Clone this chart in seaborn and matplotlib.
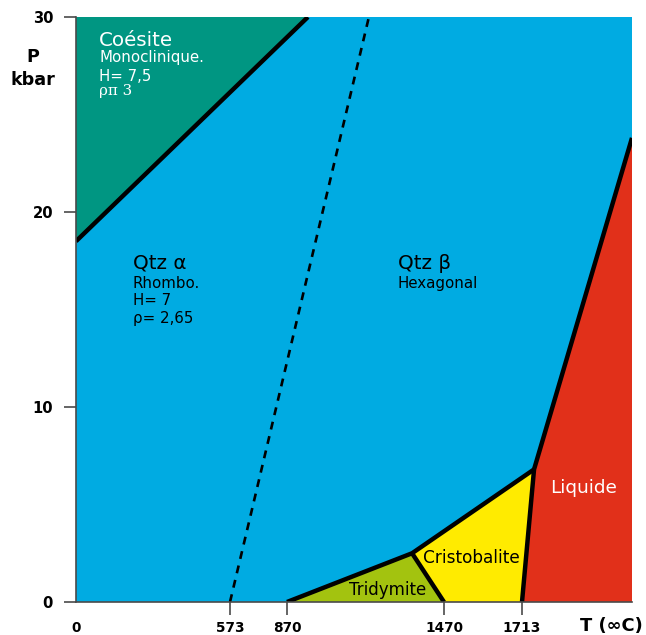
import numpy as np
import matplotlib
matplotlib.use("Agg")
import matplotlib.pyplot as plt
import seaborn as sns

# Phase boundaries of SiO2 (T in °C, P in kbar)
T_COESITE = [0, 950]
P_COESITE = [18.5, 30]
T_ALPHA_BETA = [573, 1183]
P_ALPHA_BETA = [0, 30]
T_HIGH_T = [870, 1348, 1750]
P_HIGH_T = [0, 2.5, 6.8]
T_TRI_CRI = [1348, 1470]
P_TRI_CRI = [2.5, 0]
T_MELT = [1713, 1750, 2051]
P_MELT = [0, 6.8, 23.8]

T_TICKS = [0, 573, 870, 1470, 1713]
P_TICKS = [0, 10, 20, 30]
T_MAX = 2051
P_MAX = 30

# Schematic (non-linear) temperature axis: knots and their relative positions
AXIS_T = [0, 573, 870, 1470, 1713, 2051]
AXIS_POS = [0, 154, 211, 368, 446, 556]


def forward(t):
    return np.interp(t, AXIS_T, AXIS_POS)


def inverse(x):
    return np.interp(x, AXIS_POS, AXIS_T)


BLUE = "#00ABE2"
GREEN = "#009682"
OLIVE = "#A3C30F"
YELLOW = "#FFEB00"
RED = "#E1301A"

sns.set_theme(style="ticks")
plt.rcParams["font.family"] = ["DejaVu Sans"]
plt.rcParams["text.color"] = "black"
plt.rcParams["xtick.labelcolor"] = "black"
plt.rcParams["ytick.labelcolor"] = "black"

fig = plt.figure(figsize=(6.46, 6.35), dpi=100)
ax = fig.add_axes([76 / 646, 33 / 635, 556 / 646, 585 / 635])
ax.set_xscale("function", functions=(forward, inverse))
ax.set_xlim(0, T_MAX)
ax.set_ylim(0, P_MAX)
ax.set_facecolor(BLUE)

# Phase fields
ax.fill([T_COESITE[0], T_COESITE[1], 0], [P_COESITE[0], P_COESITE[1], P_MAX],
        color=GREEN, lw=0, zorder=1)
ax.fill([T_HIGH_T[0], T_HIGH_T[1], T_TRI_CRI[1]], [P_HIGH_T[0], P_HIGH_T[1], P_TRI_CRI[1]],
        color=OLIVE, lw=0, zorder=1)
ax.fill([T_HIGH_T[1], T_HIGH_T[2], T_MELT[0], T_TRI_CRI[1]],
        [P_HIGH_T[1], P_HIGH_T[2], P_MELT[0], P_TRI_CRI[1]],
        color=YELLOW, lw=0, zorder=1)
ax.fill(T_MELT + [T_MAX], P_MELT + [0], color=RED, lw=0, zorder=1)

# Boundary lines
for t, p in [(T_COESITE, P_COESITE), (T_HIGH_T, P_HIGH_T),
             (T_TRI_CRI, P_TRI_CRI), (T_MELT, P_MELT)]:
    sns.lineplot(x=t, y=p, sort=False, color="black", lw=3.2, ax=ax,
                 solid_capstyle="butt", zorder=3)
sns.lineplot(x=T_ALPHA_BETA, y=P_ALPHA_BETA, sort=False, color="black", lw=1.9,
             ax=ax, zorder=3, linestyle=(0, (3.0, 2.6)))

# Axes styling
for side in ("top", "right"):
    ax.spines[side].set_visible(False)
for side in ("left", "bottom"):
    ax.spines[side].set_color("#4a4a4a")
    ax.spines[side].set_linewidth(1.2)
    ax.spines[side].set_zorder(4)

ax.set_xticks(T_TICKS)
ax.set_xticklabels([str(t) for t in T_TICKS], fontsize=9.8, fontweight="bold")
ax.set_yticks(P_TICKS)
ax.set_yticklabels([str(p) for p in P_TICKS], fontsize=10.6, fontweight="bold")
ax.tick_params(axis="x", length=9, width=1.2, color="#4a4a4a", labelcolor="black", pad=4.5)
ax.tick_params(axis="y", length=9, width=1.2, color="#4a4a4a", labelcolor="black", pad=7.5)
ax.xaxis.get_major_ticks()[0].tick1line.set_visible(False)
ax.set_xlabel("")
ax.set_ylabel("")

# Axis titles
fig.text(33 / 646, 1 - 62 / 635, "P", ha="center", va="baseline",
         fontsize=12.6, fontweight="bold", color="black")
fig.text(33 / 646, 1 - 85 / 635, "kbar", ha="center", va="baseline",
         fontsize=12.6, fontweight="bold", color="black")
fig.text(643 / 646, 1 - 631 / 635, "T (∞C)", ha="right", va="baseline",
         fontsize=12.9, fontweight="bold", color="black")


# Phase labels
def label(t, p, s, **kw):
    ax.text(t, p, s, zorder=5, va="baseline", **kw)


TITLE = 14.3
BODY = 10.8
label(86, 28.51, "Coésite", color="white", fontsize=TITLE)
label(86, 27.68, "Monoclinique.", color="white", fontsize=BODY)
label(86, 26.72, "H= 7,5", color="white", fontsize=BODY)
label(86, 25.99, "ρπ 3", color="white", fontsize=BODY, family=["DejaVu Serif"])

label(211, 17.08, "Qtz α", color="black", fontsize=TITLE)
label(211, 16.12, "Rhombo.", color="black", fontsize=BODY)
label(211, 15.23, "H= 7", color="black", fontsize=BODY)
label(211, 14.32, "ρ= 2,65", color="black", fontsize=BODY)

label(1294, 17.08, "Qtz β", color="black", fontsize=TITLE)
label(1294, 16.12, "Hexagonal", color="black", fontsize=BODY)

label(1902, 5.57, "Liquide", color="white", fontsize=13.3, ha="center")
label(1556, 2.02, "Cristobalite", color="black", fontsize=12.2, ha="center")
label(1256, 0.36, "Tridymite", color="black", fontsize=12.0, ha="center")

fig.savefig("out.png", dpi=100)
